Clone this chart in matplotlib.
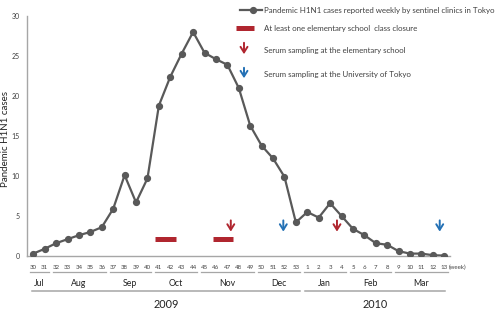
import numpy as np
import matplotlib
matplotlib.use("Agg")
import matplotlib.pyplot as plt
from matplotlib.lines import Line2D
from matplotlib.patches import FancyArrowPatch

plt.rcParams['font.family'] = ['Lato', 'DejaVu Sans']

# Data: weekly cases (weeks 30-53 of 2009, 1-13 of 2010)
weeks = list(range(30, 54)) + list(range(1, 14))
cases = [0.3, 0.9, 1.6, 2.1, 2.6, 3.0, 3.6, 5.9, 10.1, 6.7,
         9.7, 18.8, 22.4, 25.3, 28.0, 25.4, 24.6, 23.9, 21.0, 16.3,
         13.8, 12.2, 9.9, 4.2,
         5.5, 4.8, 6.6, 5.0, 3.4, 2.6, 1.6, 1.4, 0.6, 0.3, 0.3, 0.1, 0.05]

months = ['Jul', 'Aug', 'Sep', 'Oct', 'Nov', 'Dec', 'Jan', 'Feb', 'Mar']
month_weeks = [(30, 31), (32, 36), (37, 40), (41, 44), (45, 49), (50, 53),
               (1, 4), (5, 8), (9, 13)]
years = ['2009', '2010']
year_months = [('Jul', 'Dec'), ('Jan', 'Mar')]

closures = [(41, 42), (46, 47)]      # class closure weeks
red_arrows = [47, 4]                 # serum sampling, elementary school
blue_arrows = [52, 13]               # serum sampling, Univ. of Tokyo

legend_labels = ['Pandemic H1N1 cases reported weekly by sentinel clinics in Tokyo',
                 'At least one elementary school  class closure',
                 'Serum sampling at the elementary school',
                 'Serum sampling at the University of Tokyo']

LINE = '#595959'
RED = '#b0262f'
BLUE = '#2471b5'
GRAY = '#a6a6a6'
TXT = '#404040'

W, H = 498, 309
fig = plt.figure(figsize=(W / 100, H / 100), dpi=100)
ax = fig.add_axes([27 / W, (H - 256) / H, (450 - 27) / W, 240 / H])

x = np.arange(len(weeks))


def pos(w):
    # weeks 30-53 belong to 2009, 1-13 to 2010
    return weeks.index(w) if w >= 30 else 24 + weeks[24:].index(w)


ax.plot(x, cases, color=LINE, lw=1.6, marker='o', ms=4.2, zorder=3)

for a, b in closures:
    ax.plot([pos(a) - 0.3, pos(b) + 0.5], [2.1, 2.1], color=RED, lw=3.6,
            solid_capstyle='butt')

arrow_off = {47: 0.3, 4: -0.4, 52: -0.1, 13: -0.4}
for ws, col in [(red_arrows, RED), (blue_arrows, BLUE)]:
    for w in ws:
        xp = pos(w) + arrow_off[w]
        ax.annotate('', xy=(xp, 2.7), xytext=(xp, 4.8),
                    arrowprops=dict(arrowstyle='->,head_width=0.25,head_length=0.4',
                                    color=col, lw=1.4))

ax.set_xlim(-0.55, 36.5)
ax.set_ylim(0, 30)
ax.set_yticks(range(0, 31, 5))
ax.set_xticks([])
ax.tick_params(axis='y', length=0, labelsize=5, labelcolor=TXT, pad=5)
for s in ['top', 'right']:
    ax.spines[s].set_visible(False)
for s in ['left', 'bottom']:
    ax.spines[s].set_color(GRAY)
    ax.spines[s].set_linewidth(1.0)

# week labels
for i, w in enumerate(weeks):
    ax.text(i, -1.4, str(w), ha='center', va='center', fontsize=4.4,
            color=TXT, clip_on=False)
ax.text(len(weeks) - 1 + 0.35, -1.4, '(week)', ha='left', va='center',
        fontsize=4.4, color=TXT, clip_on=False)

# month groups
for m, (a, b) in zip(months, month_weeks):
    x0, x1 = pos(a) - 0.3, pos(b) + 0.35
    ax.plot([x0, x1], [-2.0, -2.0], color=GRAY, lw=0.9, clip_on=False)
    ax.text((pos(a) + pos(b)) / 2, -3.4, m, ha='center', va='center',
            fontsize=6.3, color='#222222', clip_on=False)

# year groups
for y, (ma, mb) in zip(years, year_months):
    a = month_weeks[months.index(ma)][0]
    b = month_weeks[months.index(mb)][1]
    x0, x1 = pos(a) - 0.1, pos(b) + 0.4
    if y == '2010':
        x0, x1 = pos(a) - 0.2, pos(b) + 0.1
    ax.plot([x0, x1], [-4.4, -4.4], color=GRAY, lw=1.1, clip_on=False)
    ax.text((x0 + x1) / 2, -6.0, y, ha='center', va='center',
            fontsize=7.8, color='#222222', clip_on=False)


# legend and y label (figure pixel coordinates)
def fp(px, py):
    return px / W, 1 - py / H


fig.text(*fp(5.5, 139), 'Pandemic H1N1 cases', rotation=90, ha='center',
         va='center', fontsize=7.0, color='#222222')

fig.add_artist(Line2D([240 / W, 262 / W], [fp(0, 10)[1]] * 2, color=LINE, lw=1.6))
fig.add_artist(Line2D([253 / W], [fp(0, 10)[1]], color=LINE, marker='o', ms=4.2))
fig.add_artist(Line2D([236 / W, 254 / W], [fp(0, 28)[1]] * 2, color=RED, lw=3.6,
                      solid_capstyle='butt'))
for col, y0, y1 in [(RED, 40, 57), (BLUE, 65, 81)]:
    fig.add_artist(FancyArrowPatch(
        fp(244, y0), fp(244, y1), transform=fig.transFigure,
        arrowstyle='->,head_width=2.5,head_length=4', color=col, lw=1.4,
        mutation_scale=1))

for lab, py in zip(legend_labels, [10, 28, 51, 75]):
    fig.text(*fp(264, py), lab, ha='left', va='center', fontsize=5.7, color=TXT)

fig.savefig('out.png', dpi=100)
